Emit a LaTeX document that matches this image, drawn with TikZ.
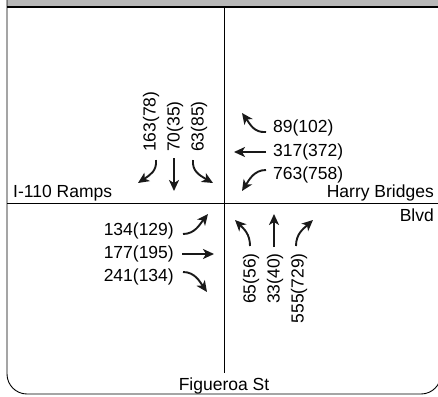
\documentclass[tikz,border=0pt]{standalone}
\usepackage{fontspec}
\setmainfont{Liberation Sans}
\usetikzlibrary{arrows.meta}
\begin{document}
\begin{tikzpicture}[x=1pt,y=-1pt,
  lab/.style={inner sep=0pt, font=\fontsize{17.5}{20}\selectfont},
  arr/.style={line width=1.9pt, draw=black!90, -{Stealth[length=11pt,width=10pt,inset=3pt]}},
  road/.style={line width=0.9pt, draw=black}]
\useasboundingbox (0,0) rectangle (438,396);
% frame
\fill[black!28] (7,0) rectangle (442,7);
\draw[line width=0.9pt, rounded corners=20pt] (7,0) -- (7,394) -- (441,394) -- (441,7);
\draw[line width=1.3pt] (7,7) -- (442,7);
% roads
\coordinate (vt) at (224,7);
\coordinate (vb) at (224,373);
\coordinate (hl) at (7,203);
\coordinate (hr) at (442,203);
\draw[road] (vt) -- (vb);
\draw[road] (hl) -- (hr);
% street names
\node[lab, anchor=base west] (ramps) at (13,197) {I-110 Ramps};
\node[lab, anchor=base east] (harry) at (434,197) {Harry Bridges};
\node[lab, anchor=base east] (blvd) at (434,221) {Blvd};
\node[lab, anchor=base] (fig) at (224,390) {Figueroa St};
% southbound
\node[lab, rotate=90, anchor=west] (s1) at (151,152) {163(78)};
\node[lab, rotate=90, anchor=west] (s2) at (175,152) {70(35)};
\node[lab, rotate=90, anchor=west] (s3) at (199,152) {63(85)};
\coordinate (s1a) at (156,160); \coordinate (s1b) at (138,183);
\coordinate (s2a) at (174,158); \coordinate (s2b) at (174,191);
\coordinate (s3a) at (193,160); \coordinate (s3b) at (213,183);
\draw[arr] (s1a) .. controls (157,171) and (150,175) .. (s1b);
\draw[arr] (s2a) -- (s2b);
\draw[arr] (s3a) .. controls (192,171) and (199,175) .. (s3b);
% westbound
\node[lab, anchor=west] (w1) at (273,128) {89(102)};
\node[lab, anchor=west] (w2) at (273,152) {317(372)};
\node[lab, anchor=west] (w3) at (273,175) {763(758)};
\coordinate (w1a) at (266,132); \coordinate (w1b) at (242,113);
\coordinate (w2a) at (266,152); \coordinate (w2b) at (234,152);
\coordinate (w3a) at (266,170); \coordinate (w3b) at (242,191);
\draw[arr] (w1a) .. controls (254,133) and (250,124) .. (w1b);
\draw[arr] (w2a) -- (w2b);
\draw[arr] (w3a) .. controls (254,170) and (249,180) .. (w3b);
% eastbound
\node[lab, anchor=east] (e1) at (174,231) {134(129)};
\node[lab, anchor=east] (e2) at (174,254) {177(195)};
\node[lab, anchor=east] (e3) at (174,277) {241(134)};
\coordinate (e1a) at (183,234); \coordinate (e1b) at (208,214);
\coordinate (e2a) at (182,254); \coordinate (e2b) at (214,254);
\coordinate (e3a) at (183,272); \coordinate (e3b) at (207,292);
\draw[arr] (e1a) .. controls (195,234) and (200,224) .. (e1b);
\draw[arr] (e2a) -- (e2b);
\draw[arr] (e3a) .. controls (195,272) and (200,282) .. (e3b);
% northbound
\node[lab, rotate=90, anchor=east] (n1) at (251,253) {65(56)};
\node[lab, rotate=90, anchor=east] (n2) at (275,253) {33(40)};
\node[lab, rotate=90, anchor=east] (n3) at (299,253) {555(729)};
\coordinate (n1a) at (250,246); \coordinate (n1b) at (235,220);
\coordinate (n2a) at (274,247); \coordinate (n2b) at (274,214);
\coordinate (n3a) at (296,246); \coordinate (n3b) at (313,220);
\draw[arr] (n1a) .. controls (250,234) and (244,229) .. (n1b);
\draw[arr] (n2a) -- (n2b);
\draw[arr] (n3a) .. controls (296,234) and (303,229) .. (n3b);
\end{tikzpicture}
\end{document}
